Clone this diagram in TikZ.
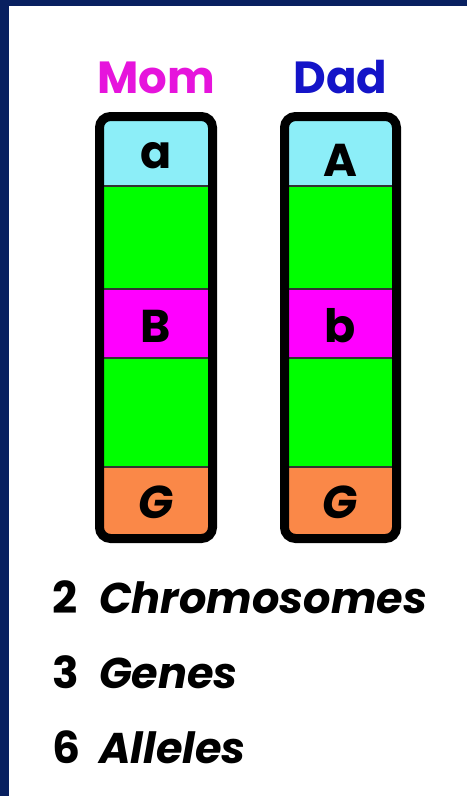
\documentclass[tikz,border=0pt]{standalone}
\usepackage{fontspec}
\setmainfont{Poppins}
\definecolor{navy}{RGB}{8,32,96}
\definecolor{cyanS}{RGB}{140,238,248}
\definecolor{greenS}{RGB}{0,255,0}
\definecolor{magS}{RGB}{255,0,255}
\definecolor{orangeS}{RGB}{250,136,72}
\definecolor{momC}{RGB}{230,20,220}
\definecolor{dadC}{RGB}{20,20,200}
\tikzset{
  allele/.style={font=\fontsize{46}{46}\selectfont\bfseries, inner sep=0pt, anchor=base},
  allelesl/.style={allele, font=\fontsize{46}{46}\selectfont\bfseries\itshape},
  parent/.style={font=\fontsize{45}{45}\selectfont\bfseries, inner sep=0pt, anchor=base},
  numtxt/.style={font=\fontsize{44}{44}\selectfont\bfseries, inner sep=0pt, anchor=base west},
  wordtxt/.style={font=\fontsize{43}{43}\selectfont\bfseries\itshape, inner sep=0pt, anchor=base west},
  divider/.style={draw=black!80, line width=1.4pt},
  chromoframe/.style={draw=black, line width=9pt, rounded corners=11pt}
}
\newcommand\chromobox[2]{% #1 = left x, #2 = right x (stroke centre)
  \begin{scope}
    \clip[rounded corners=11pt] (#1,116.5) rectangle (#2,538.5);
    \fill[cyanS] (#1,116.5) rectangle (#2,186);
    \fill[greenS] (#1,186) rectangle (#2,289);
    \fill[magS] (#1,289) rectangle (#2,358);
    \fill[greenS] (#1,358) rectangle (#2,467);
    \fill[orangeS] (#1,467) rectangle (#2,538.5);
    \draw[divider] (#1,186) -- (#2,186);
    \draw[divider] (#1,289) -- (#2,289);
    \draw[divider] (#1,358) -- (#2,358);
    \draw[divider] (#1,467) -- (#2,467);
  \end{scope}
  \draw[chromoframe] (#1,116.5) rectangle (#2,538.5);
}
\begin{document}
\begin{tikzpicture}[x=1pt,y=-1pt]
\useasboundingbox (0,0) rectangle (467,796);
\fill[white] (0,0) rectangle (467,796);
\fill[navy] (0,0) rectangle (467,6);
\fill[navy] (0,0) rectangle (9,796);

\chromobox{99.5}{212.5}
\chromobox{284.5}{396.5}

\node[parent, text=momC] (mom) at (156,93) {Mom};
\node[parent, text=dadC] (dad) at (340.5,93) {Dad};

\node[allele] (ma) at (156,168) {a};
\node[allele] (mb) at (156,342) {B};
\node[allelesl] (mg) at (156,518) {G};
\node[allele] (da) at (340.5,176) {A};
\node[allele] (db) at (340.5,342) {b};
\node[allelesl] (dg) at (340.5,518) {G};

\node[numtxt] (n1) at (52,613) {2};
\node[wordtxt] (w1) at (99,613) {Chromosomes};
\node[numtxt] (n2) at (52,688) {3};
\node[wordtxt] (w2) at (99,688) {Genes};
\node[numtxt] (n3) at (52,763) {6};
\node[wordtxt] (w3) at (99,763) {Alleles};
\end{tikzpicture}
\end{document}
